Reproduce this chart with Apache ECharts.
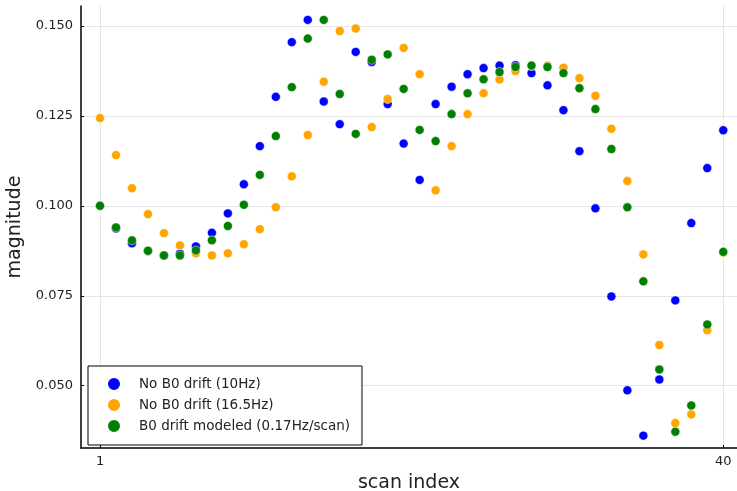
<!DOCTYPE html>
<html>
<head>
<meta charset="utf-8">
<script src="https://cdn.jsdelivr.net/npm/echarts@6/dist/echarts.min.js"></script>
<style>
    html, body { margin: 0; padding: 0; background: #fff; }
    #chart { width: 737px; height: 491px; }
</style>
</head>
<body>
<div id="chart"></div>
<script>
// scan index 1..40
var scanIndex = [];
for (var i = 1; i <= 40; i++) scanIndex.push(i);

// No B0 drift (10Hz)
var drift10 = [0.1000, 0.0937, 0.0896, 0.0874, 0.0862, 0.0867, 0.0887, 0.0925, 0.0979, 0.1060,
    0.1166, 0.1303, 0.1455, 0.1517, 0.1290, 0.1227, 0.1428, 0.1400, 0.1283, 0.1173,
    0.1072, 0.1283, 0.1331, 0.1366, 0.1383, 0.1390, 0.1391, 0.1369, 0.1335, 0.1266,
    0.1152, 0.0993, 0.0748, 0.0487, 0.0361, 0.0517, 0.0737, 0.0952, 0.1105, 0.1210];

// No B0 drift (16.5Hz)
var drift165 = [0.1244, 0.1141, 0.1049, 0.0977, 0.0924, 0.0890, 0.0868, 0.0862, 0.0868, 0.0893,
    0.0935, 0.0996, 0.1082, 0.1197, 0.1345, 0.1486, 0.1493, 0.1219, 0.1297, 0.1439,
    0.1366, 0.1043, 0.1166, 0.1255, 0.1313, 0.1351, 0.1375, 0.1389, 0.1390, 0.1384,
    0.1355, 0.1306, 0.1214, 0.1069, 0.0865, 0.0613, 0.0396, 0.0420, 0.0654, 0.0870];

// B0 drift modeled (0.17Hz/scan)
var driftModeled = [0.1000, 0.0940, 0.0904, 0.0875, 0.0862, 0.0862, 0.0876, 0.0904, 0.0944, 0.1003,
    0.1086, 0.1194, 0.1330, 0.1465, 0.1517, 0.1311, 0.1200, 0.1406, 0.1421, 0.1325,
    0.1211, 0.1180, 0.1255, 0.1313, 0.1352, 0.1372, 0.1386, 0.1390, 0.1386, 0.1369,
    0.1327, 0.1269, 0.1158, 0.0996, 0.0790, 0.0545, 0.0372, 0.0445, 0.0670, 0.0872];

var xTicks = [1, 40];
var yTicks = [0.050, 0.075, 0.100, 0.125, 0.150];

function pairs(ys) {
    return ys.map(function (v, k) { return [scanIndex[k], v]; });
}

var chart = echarts.init(document.getElementById('chart'));
var font = 'DejaVu Sans';

chart.setOption({
    animation: false,
    textStyle: { fontFamily: font },
    grid: { left: 81, top: 6, right: 0, bottom: 43, outerBoundsMode: 'none', containLabel: false },
    xAxis: {
        type: 'value',
        min: -0.19,
        max: 40.86,
        name: 'scan index',
        nameLocation: 'middle',
        nameGap: 26,
        nameTextStyle: { fontSize: 19, color: '#222', fontFamily: font },
        axisLine: { onZero: false, lineStyle: { color: '#000', width: 1.5 } },
        axisTick: { inside: true, length: 3, customValues: xTicks, lineStyle: { color: '#000' } },
        axisLabel: { customValues: xTicks, fontSize: 13, color: '#222', margin: 7, fontFamily: font },
        splitLine: { show: true, lineStyle: { color: '#e6e6e6', width: 1 } }
    },
    yAxis: {
        type: 'value',
        min: 0.03267,
        max: 0.15556,
        name: 'magnitude',
        nameLocation: 'middle',
        nameGap: 52,
        nameTextStyle: { fontSize: 19, color: '#222', fontFamily: font },
        axisLine: { show: true, onZero: false, lineStyle: { color: '#000', width: 1.5 } },
        axisTick: { show: true, inside: true, length: 3, customValues: yTicks, lineStyle: { color: '#000' } },
        axisLabel: {
            customValues: yTicks, fontSize: 13, color: '#222', margin: 8, fontFamily: font,
            formatter: function (v) { return v.toFixed(3); }
        },
        splitLine: { show: true, lineStyle: { color: '#e6e6e6', width: 1 } }
    },
    legend: {
        orient: 'vertical',
        left: 88,
        top: 366,
        padding: [10, 12, 11, 18],
        itemWidth: 14,
        itemHeight: 14,
        itemGap: 5,
        borderColor: '#000',
        borderWidth: 1,
        borderRadius: 0,
        backgroundColor: '#fff',
        icon: 'circle',
        textStyle: { fontSize: 13.5, color: '#222', fontFamily: font, padding: [0, 0, 0, 13] },
        data: ['No B0 drift (10Hz)', 'No B0 drift (16.5Hz)', 'B0 drift modeled (0.17Hz/scan)']
    },
    series: [
        {
            name: 'No B0 drift (10Hz)',
            type: 'scatter',
            symbolSize: 9,
            itemStyle: { color: '#0000ff', borderColor: '#fff', borderWidth: 0.5, opacity: 1 },
            data: pairs(drift10)
        },
        {
            name: 'No B0 drift (16.5Hz)',
            type: 'scatter',
            symbolSize: 9,
            itemStyle: { color: '#ffa500', borderColor: '#fff', borderWidth: 0.5, opacity: 1 },
            data: pairs(drift165)
        },
        {
            name: 'B0 drift modeled (0.17Hz/scan)',
            type: 'scatter',
            symbolSize: 9,
            itemStyle: { color: '#008000', borderColor: '#fff', borderWidth: 0.5, opacity: 1 },
            data: pairs(driftModeled)
        }
    ]
});
</script>
</body>
</html>
